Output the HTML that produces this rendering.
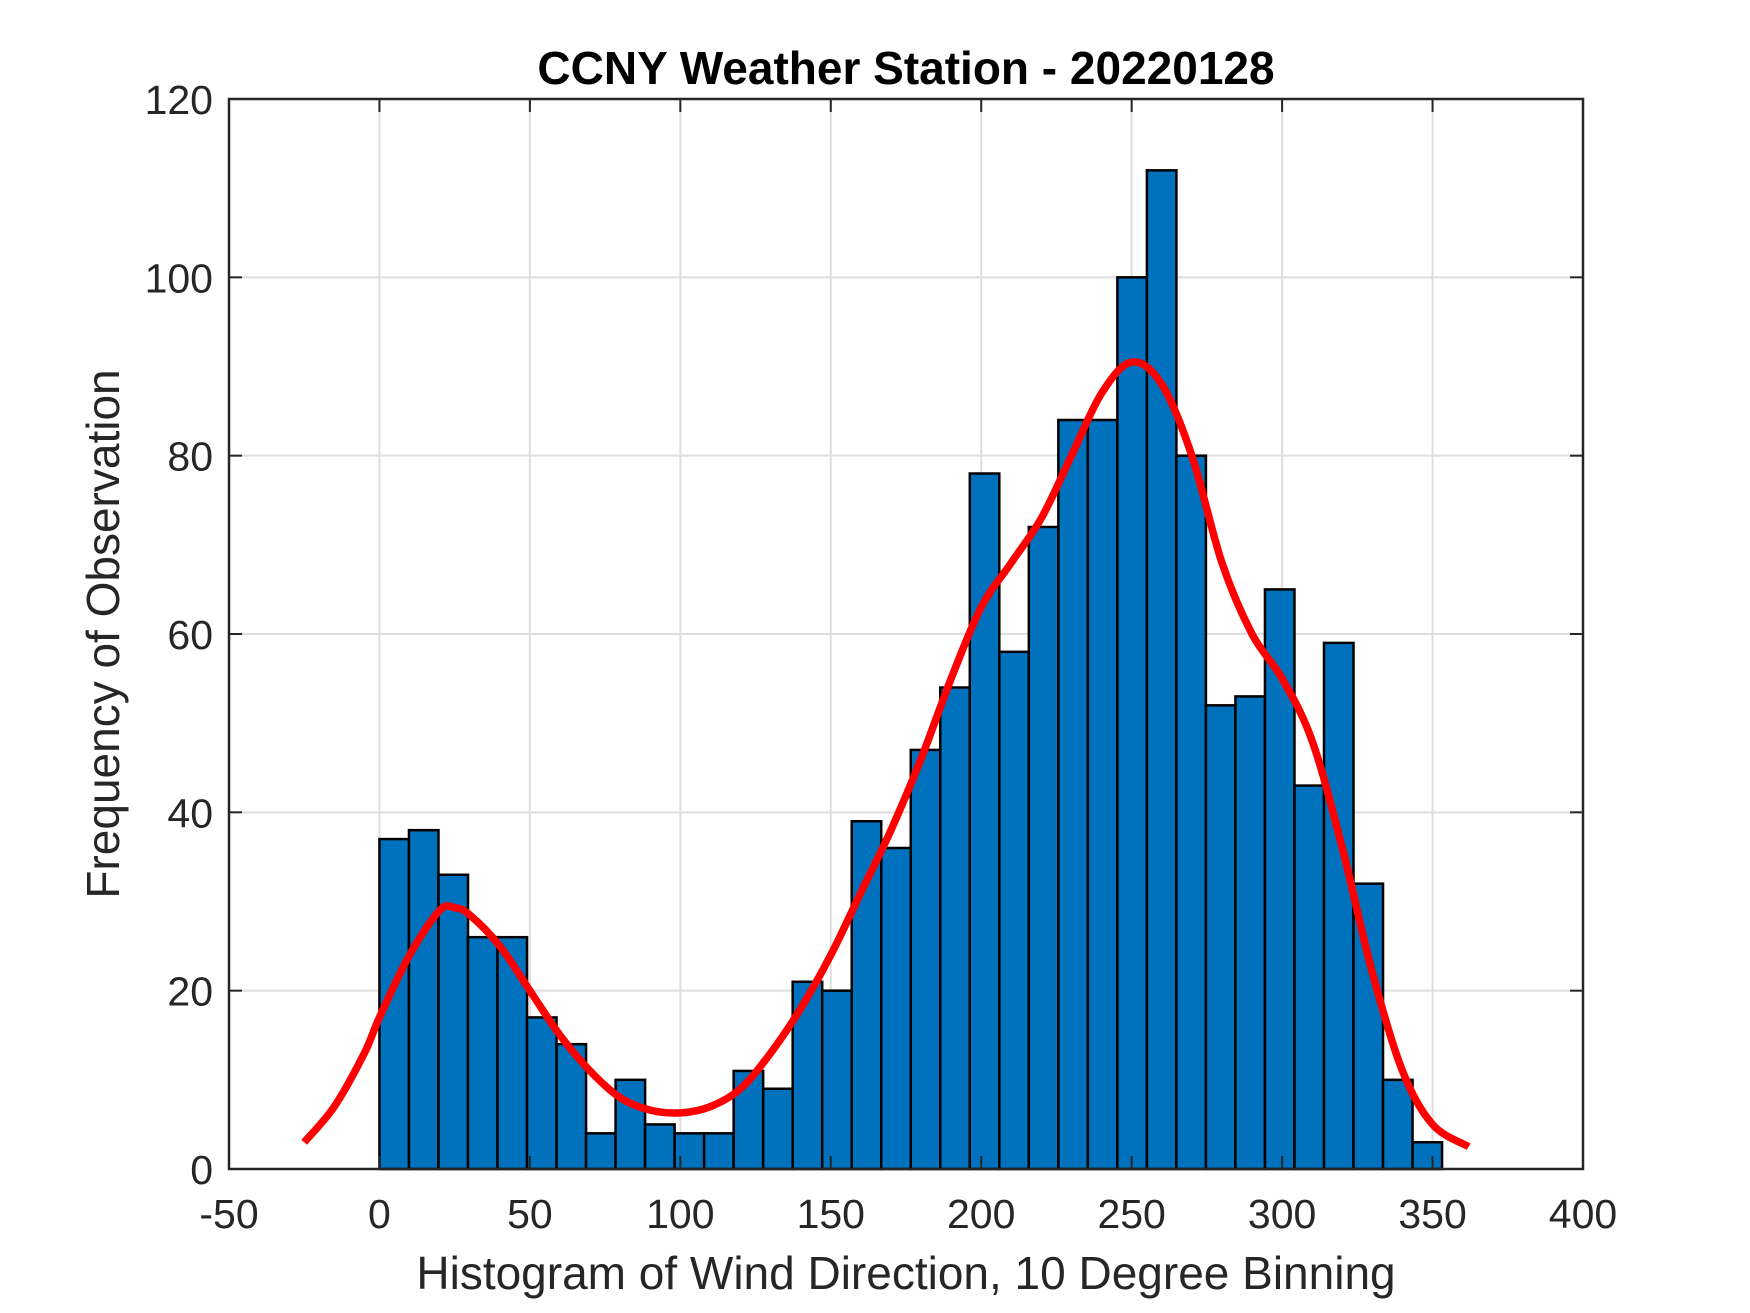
<!DOCTYPE html>
<html><head><meta charset="utf-8"><style>
html,body{margin:0;padding:0;background:#fff;}
svg{display:block;}
text{font-family:"Liberation Sans",Arial,sans-serif;fill:#262626;}
</style></head><body>
<svg id="chart" width="1750" height="1313" viewBox="0 0 1750 1313" xmlns="http://www.w3.org/2000/svg">
<rect x="0" y="0" width="1750" height="1313" fill="#fff"/>
<g id="grid"></g>
<g id="bars"></g>
<g id="curve"></g>
<g id="axes"></g>
<text x="906" y="84" text-anchor="middle" font-size="46" font-weight="bold" style="fill:#000">CCNY Weather Station - 20220128</text>
<text x="906" y="1289" text-anchor="middle" font-size="46">Histogram of Wind Direction, 10 Degree Binning</text>
<text transform="translate(119,634) rotate(-90)" text-anchor="middle" font-size="46">Frequency of Observation</text>
</svg>
<script>
const binCounts = [37,38,33,26,26,17,14,4,10,5,4,4,11,9,21,20,39,36,47,54,78,58,72,84,84,100,112,80,52,53,65,43,59,32,10,3];
const binStart = 0;
const binWidth = 9.81;
const curveX = [-25,-15,-5,0,10,20,25,30,40,50,60,70,80,90,100,110,120,130,140,150,160,170,180,190,200,210,220,230,240,250,260,270,280,290,300,310,320,330,340,350,362];
const curveY = [3,7,13,17,24,29,29.3,28.5,25,20,15,11,8,6.6,6.3,7,9,13,18,24,31,38,46,55,63,68,73,80,87,90.5,88,80,68,60,55,48,36,22,11,5,2.5];
const xTicks = [-50,0,50,100,150,200,250,300,350,400];
const yTicks = [0,20,40,60,80,100,120];

const L=229, R=1583, T=99, B=1169;
const xMin=-50, xMax=400, yMin=0, yMax=120;
const sx = v => L + (v-xMin)/(xMax-xMin)*(R-L);
const sy = v => B - (v-yMin)/(yMax-yMin)*(B-T);
const NS='http://www.w3.org/2000/svg';
function mk(tag, attrs, parent){const e=document.createElementNS(NS,tag);for(const k in attrs)e.setAttribute(k,attrs[k]);parent.appendChild(e);return e;}

const grid=document.getElementById('grid');
xTicks.forEach(t=>{ if(t>xMin&&t<xMax){const l=mk('line',{x1:sx(t),x2:sx(t),y1:T,y2:B,stroke:'#dedede','stroke-width':2},grid);

}});
yTicks.forEach(t=>{ if(t>yMin&&t<yMax){const l=mk('line',{x1:L,x2:R,y1:sy(t),y2:sy(t),stroke:'#dedede','stroke-width':2},grid);

}});

const bars=document.getElementById('bars');
binCounts.forEach((c,i)=>{
  const x0=binStart+i*binWidth, x1=x0+binWidth;
  const r=mk('rect',{x:sx(x0),y:sy(c),width:sx(x1)-sx(x0),height:sy(0)-sy(c),fill:'#0072BD',stroke:'#000','stroke-width':2.5},bars);
  
  
});

const cg=document.getElementById('curve');
const pts=curveX.map((x,i)=>[sx(x),sy(curveY[i])]);
let d='M'+pts[0][0]+','+pts[0][1];
for(let i=0;i<pts.length-1;i++){
  const p0=pts[i-1]||pts[i],p1=pts[i],p2=pts[i+1],p3=pts[i+2]||pts[i+1];
  const c1x=p1[0]+(p2[0]-p0[0])/6,c1y=p1[1]+(p2[1]-p0[1])/6;
  const c2x=p2[0]-(p3[0]-p1[0])/6,c2y=p2[1]-(p3[1]-p1[1])/6;
  d+=' C'+c1x+','+c1y+' '+c2x+','+c2y+' '+p2[0]+','+p2[1];
}
const path=mk('path',{d:d,fill:'none',stroke:'#ff0000','stroke-width':7.5,'stroke-linejoin':'round'},cg);



const ax=document.getElementById('axes');
const box=mk('rect',{x:L,y:T,width:R-L,height:B-T,fill:'none',stroke:'#262626','stroke-width':2.5},ax);


xTicks.forEach(t=>{
  const x=sx(t);
  mk('line',{x1:x,x2:x,y1:B,y2:B-13,stroke:'#262626','stroke-width':2},ax);
  mk('line',{x1:x,x2:x,y1:T,y2:T+13,stroke:'#262626','stroke-width':2},ax);
  const tx=mk('text',{x:x,y:B+59,'text-anchor':'middle','font-size':41},ax);
  tx.textContent=t;
  
  
});
yTicks.forEach(t=>{
  const y=sy(t);
  mk('line',{x1:L,x2:L+13,y1:y,y2:y,stroke:'#262626','stroke-width':2},ax);
  mk('line',{x1:R,x2:R-13,y1:y,y2:y,stroke:'#262626','stroke-width':2},ax);
  const tx=mk('text',{x:L-16,y:y+15,'text-anchor':'end','font-size':41},ax);
  tx.textContent=t;
  
  
});
</script>
</body></html>
